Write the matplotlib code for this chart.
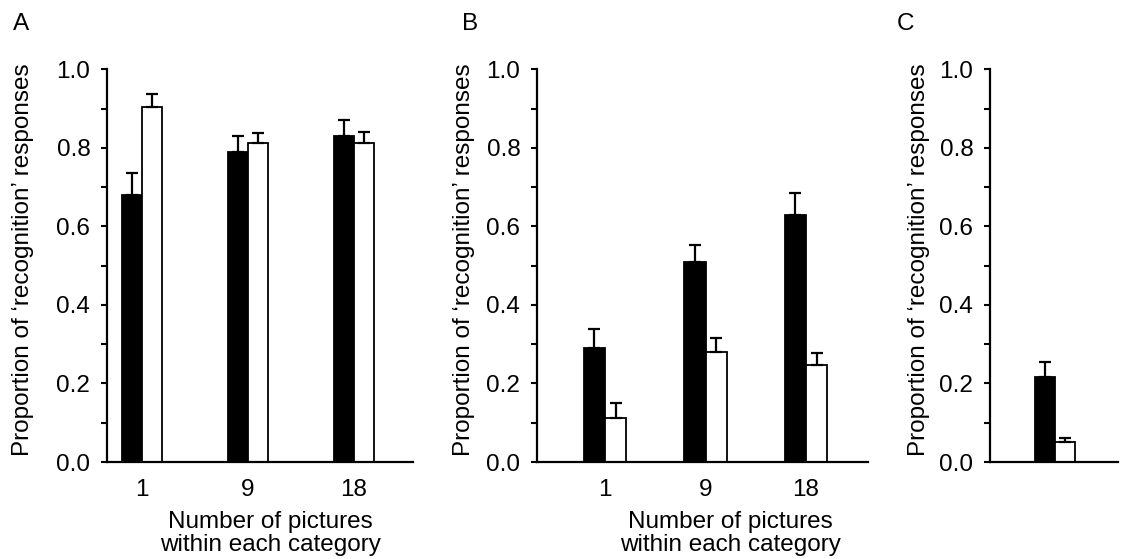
import numpy as np
import matplotlib
matplotlib.use("Agg")
import matplotlib.pyplot as plt
from matplotlib.ticker import MultipleLocator, FormatStrFormatter

plt.rcParams['font.family'] = ['Liberation Sans', 'DejaVu Sans']
plt.rcParams['font.size'] = 17.5

# data
groups = ['1', '9', '18']

a_black = [0.68, 0.79, 0.83]
a_black_err = [0.056, 0.040, 0.041]
a_white = [0.903, 0.813, 0.812]
a_white_err = [0.034, 0.025, 0.028]

b_black = [0.29, 0.51, 0.63]
b_black_err = [0.049, 0.042, 0.055]
b_white = [0.112, 0.279, 0.247]
b_white_err = [0.039, 0.037, 0.030]

c_black = [0.217]
c_black_err = [0.038]
c_white = [0.051]
c_white_err = [0.011]

fig = plt.figure(figsize=(11.26, 5.59), dpi=100)

bottom = 0.1735
height = 0.7025
axA = fig.add_axes([0.095, bottom, 0.2718, height])
axB = fig.add_axes([0.4769, bottom, 0.294, height])
axC = fig.add_axes([0.8792, bottom, 0.1137, height])


def draw(ax, labels, black, black_err, white, white_err, width, xlim):
    x = np.arange(len(black))
    ax.bar(x - width / 2, black, width, color='black', edgecolor='black', linewidth=1.3)
    ax.bar(x + width / 2, white, width, color='white', edgecolor='black', linewidth=1.3)
    ax.errorbar(x - width / 2, black, yerr=[np.zeros(len(black)), black_err],
                fmt='none', ecolor='black', elinewidth=1.6, capsize=4.5, capthick=1.6)
    ax.errorbar(x + width / 2, white, yerr=[np.zeros(len(white)), white_err],
                fmt='none', ecolor='black', elinewidth=1.6, capsize=4.5, capthick=1.6)
    ax.set_xlim(*xlim)
    ax.set_ylim(0, 1.0)
    ax.set_xticks(x)
    ax.set_xticklabels(labels)
    ax.yaxis.set_major_locator(MultipleLocator(0.2))
    ax.yaxis.set_minor_locator(MultipleLocator(0.1))
    ax.yaxis.set_major_formatter(FormatStrFormatter('%.1f'))
    ax.spines['top'].set_visible(False)
    ax.spines['right'].set_visible(False)
    ax.spines['left'].set_linewidth(1.6)
    ax.spines['bottom'].set_linewidth(1.6)
    ax.tick_params(axis='y', which='both', direction='out', length=4, width=1.5, pad=8)
    ax.tick_params(axis='x', length=0, pad=12)
    ax.set_ylabel('Proportion of \u2018recognition\u2019 responses')


draw(axA, groups, a_black, a_black_err, a_white, a_white_err, 0.19, (-0.33, 2.557))
draw(axB, groups, b_black, b_black_err, b_white, b_white_err, 0.21, (-0.677, 2.617))
draw(axC, [''], c_black, c_black_err, c_white, c_white_err, 0.20, (-0.65, 0.63))

axA.yaxis.set_label_coords(-0.239, 0.515)
axB.yaxis.set_label_coords(-0.187, 0.515)
axC.yaxis.set_label_coords(-0.469, 0.515)

for ax, cx in [(axA, 0.533), (axB, 0.583)]:
    ax.set_xlabel('Number of pictures\nwithin each category', linespacing=1.05)
    ax.xaxis.set_label_coords(cx, -0.125)

fig.text(21 / 1126, 1 - 24 / 559, 'A', ha='center', va='center')
fig.text(470 / 1126, 1 - 24 / 559, 'B', ha='center', va='center')
fig.text(906 / 1126, 1 - 24 / 559, 'C', ha='center', va='center')

fig.savefig('out.png', dpi=100)
